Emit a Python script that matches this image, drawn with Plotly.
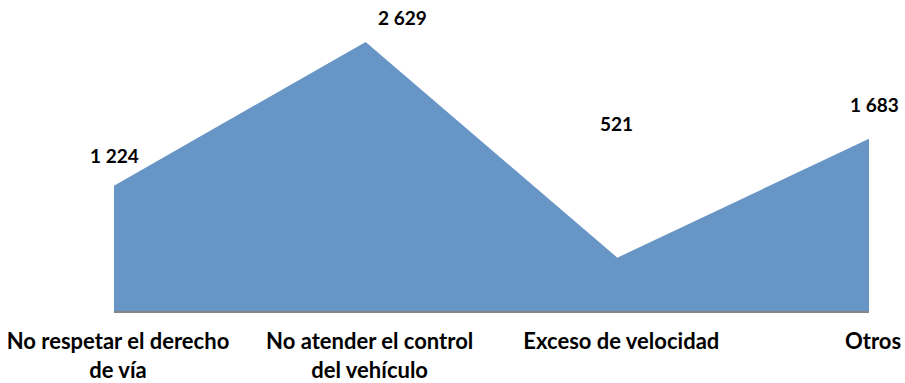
import plotly.graph_objects as go

categories = ["No respetar el derecho<br>de vía", "No atender el control<br>del vehículo",
              "Exceso de velocidad", "Otros"]
values = [1224, 2629, 521, 1683]

# label offsets in pixels (presentation only)
label_dx = [0, 37, -1, 5]
label_dy = [30, 24, 134, 34]

FONT = "Lato"
fill_color = "#6795C6"

fig = go.Figure()
fig.add_trace(go.Scatter(
    x=list(range(len(categories))), y=values,
    mode="lines", fill="tozeroy",
    line=dict(width=0, color=fill_color), fillcolor=fill_color,
    hoverinfo="skip", showlegend=False,
))

for i, v in enumerate(values):
    fig.add_annotation(
        x=i, y=v, text=f"<b>{v:,}</b>".replace(",", " "),
        showarrow=False, xanchor="center", yanchor="middle",
        xshift=label_dx[i], yshift=label_dy[i],
        font=dict(family=FONT, size=19, color="#000000"),
    )

fig.update_layout(
    width=905, height=383,
    margin=dict(l=114, r=36, t=4, b=72),
    paper_bgcolor="white", plot_bgcolor="white",
    font=dict(family=FONT, size=19, color="#000000"),
)
fig.update_xaxes(
    range=[0, len(categories) - 1],
    tickmode="array", tickvals=list(range(len(categories))),
    ticktext=[f"<b>{c}</b>" for c in categories],
    showgrid=False, zeroline=False, automargin=False,
    showline=True, linecolor="#868686", linewidth=2,
    ticks="", ticklabelstandoff=10, ticklabelshift=4,
    tickfont=dict(family=FONT, size=22, color="#000000"),
)
fig.update_yaxes(range=[0, 3000], visible=False, showgrid=False, zeroline=False,
                 automargin=False)

fig.write_html("out.html", config={"displayModeBar": False},
               post_script="document.body.style.margin='0';document.body.style.overflow='hidden';")
